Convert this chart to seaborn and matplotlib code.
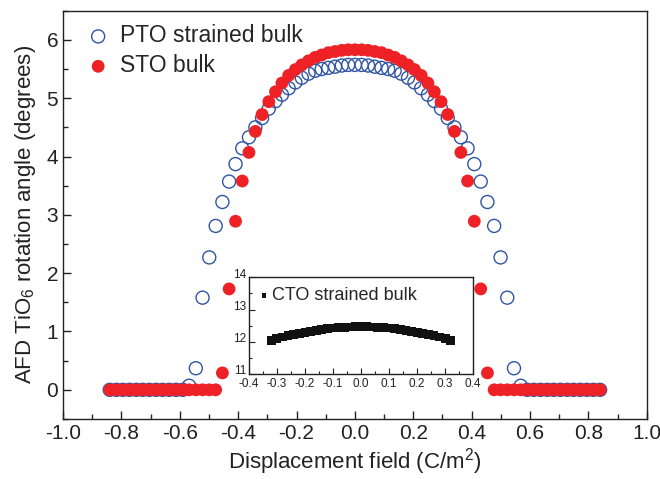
import matplotlib
matplotlib.use("Agg")
import matplotlib.pyplot as plt
import matplotlib.transforms as mtransforms
from matplotlib.ticker import MultipleLocator, FormatStrFormatter
import seaborn as sns

# displacement field grid (C/m^2)
d_field = [-0.840, -0.817, -0.795, -0.772, -0.749, -0.727, -0.704, -0.681, -0.659, -0.636,
           -0.613, -0.590, -0.568, -0.545, -0.522, -0.499, -0.477, -0.454, -0.431, -0.409,
           -0.386, -0.363, -0.341, -0.318, -0.295, -0.272, -0.250, -0.227, -0.204, -0.182,
           -0.159, -0.136, -0.114, -0.091, -0.068, -0.045, -0.023, 0.000, 0.023, 0.045,
           0.068, 0.091, 0.114, 0.136, 0.159, 0.182, 0.204, 0.227, 0.250, 0.272,
           0.295, 0.318, 0.341, 0.363, 0.386, 0.409, 0.431, 0.454, 0.477, 0.499,
           0.522, 0.545, 0.568, 0.590, 0.613, 0.636, 0.659, 0.681, 0.704, 0.727,
           0.749, 0.772, 0.795, 0.817, 0.840]

# AFD rotation angle (degrees)
pto_angle = [0, 0, 0, 0, 0, 0, 0, 0, 0, 0,
             0, 0, 0.07, 0.37, 1.58, 2.27, 2.81, 3.22, 3.57, 3.87,
             4.14, 4.33, 4.50, 4.66, 4.82, 4.95, 5.06, 5.17, 5.27, 5.35,
             5.42, 5.47, 5.50, 5.52, 5.54, 5.56, 5.57, 5.57, 5.57, 5.56,
             5.54, 5.52, 5.50, 5.47, 5.42, 5.35, 5.27, 5.17, 5.06, 4.95,
             4.82, 4.66, 4.50, 4.33, 4.14, 3.87, 3.57, 3.22, 2.81, 2.27,
             1.58, 0.37, 0.07, 0, 0, 0, 0, 0, 0, 0,
             0, 0, 0, 0, 0]

sto_angle = [0, 0, 0, 0, 0, 0, 0, 0, 0, 0,
             0, 0, 0, 0, 0, 0, 0, 0.29, 1.73, 2.89,
             3.58, 4.07, 4.43, 4.72, 4.94, 5.11, 5.26, 5.39, 5.49, 5.57,
             5.64, 5.70, 5.74, 5.78, 5.80, 5.82, 5.83, 5.83, 5.83, 5.82,
             5.80, 5.78, 5.74, 5.70, 5.64, 5.57, 5.49, 5.39, 5.26, 5.11,
             4.94, 4.72, 4.43, 4.07, 3.58, 2.89, 1.73, 0.29, 0, 0,
             0, 0, 0, 0, 0, 0, 0, 0, 0, 0,
             0, 0, 0, 0, 0]

# inset: CTO strained bulk
cto_field = [-0.32, -0.30, -0.28, -0.26, -0.24, -0.22, -0.20, -0.18, -0.16, -0.14, -0.12,
             -0.10, -0.08, -0.06, -0.04, -0.02, 0.00, 0.02, 0.04, 0.06, 0.08, 0.10,
             0.12, 0.14, 0.16, 0.18, 0.20, 0.22, 0.24, 0.26, 0.28, 0.30, 0.32]
cto_angle = [12.05, 12.10, 12.15, 12.19, 12.23, 12.27, 12.30, 12.33, 12.36, 12.39, 12.41,
             12.43, 12.44, 12.45, 12.46, 12.47, 12.47, 12.47, 12.46, 12.45, 12.44, 12.43,
             12.41, 12.39, 12.36, 12.33, 12.30, 12.27, 12.23, 12.19, 12.15, 12.10, 12.05]

sns.set_theme(style="ticks")
plt.rcParams['font.family'] = ['Liberation Sans', 'DejaVu Sans']
plt.rcParams['mathtext.default'] = 'regular'
plt.rcParams['axes.unicode_minus'] = False

blue = "#2f55a4"
red = "#ee2226"

fig = plt.figure(figsize=(6.6, 4.79), dpi=100)
ax = fig.add_axes([0.0955, 0.1253, 0.8845, 0.8524])

sns.scatterplot(x=d_field, y=pto_angle, ax=ax, marker='o', s=88,
                facecolor='none', edgecolor=blue, linewidth=1.0,
                label='PTO strained bulk', zorder=2)
sns.scatterplot(x=d_field, y=sto_angle, ax=ax, marker='o', s=85,
                color=red, edgecolor='none', linewidth=0,
                label='STO bulk', zorder=3)

ax.set_xlim(-1.0, 1.0)
ax.set_ylim(-0.5, 6.5)
ax.xaxis.set_major_locator(MultipleLocator(0.2))
ax.xaxis.set_minor_locator(MultipleLocator(0.1))
ax.xaxis.set_major_formatter(FormatStrFormatter('%.1f'))
ax.yaxis.set_major_locator(MultipleLocator(1))
ax.yaxis.set_minor_locator(MultipleLocator(0.5))
ax.tick_params(which='both', direction='in', colors='#222222', labelsize=15)
ax.tick_params(which='major', length=6, width=1)
ax.tick_params(which='minor', length=3.5, width=1)
for sp in ax.spines.values():
    sp.set_color('#222222')
    sp.set_linewidth(1.0)

ax.set_xlabel('Displacement field (C/m$^2$)', fontsize=16, labelpad=2, color='#222222')
ax.set_ylabel('AFD TiO$_6$ rotation angle (degrees)', fontsize=16, labelpad=6, color='#222222')

ax.legend(loc='upper left', frameon=False, fontsize=16.5, handletextpad=0.45,
          handlelength=1.0, borderaxespad=0.2, labelspacing=0.3,
          bbox_to_anchor=(0.017, 1.0))

# inset
ins = fig.add_axes([0.377, 0.219, 0.340, 0.202])
sns.scatterplot(x=cto_field, y=cto_angle, ax=ins, marker='s', s=40,
                color='#111111', edgecolor='none', linewidth=0,
                label='CTO strained bulk')
ins.set_xlim(-0.4, 0.4)
ins.set_ylim(11, 14)
ins.xaxis.set_major_locator(MultipleLocator(0.1))
ins.xaxis.set_minor_locator(MultipleLocator(0.05))
ins.xaxis.set_major_formatter(FormatStrFormatter('%.1f'))
ins.yaxis.set_major_locator(MultipleLocator(1))
ins.yaxis.set_minor_locator(MultipleLocator(0.5))
ins.tick_params(which='both', direction='in', colors='#222222', labelsize=8.5)
ins.tick_params(axis='x', pad=3)
ins.tick_params(axis='y', pad=2)
ins.tick_params(which='major', length=4, width=0.8)
ins.tick_params(which='minor', length=2, width=0.8)
for sp in ins.spines.values():
    sp.set_color('#222222')
    sp.set_linewidth(1.0)
ins.legend(loc='upper left', frameon=False, fontsize=13, handletextpad=0.15,
           borderaxespad=0.15, markerscale=0.5, handlelength=0.6)

# nudge the inset y labels up a little, like the original
shift = mtransforms.ScaledTranslation(0, 3 / 72, fig.dpi_scale_trans)
for lab in ins.get_yticklabels():
    lab.set_transform(lab.get_transform() + shift)

fig.savefig('out.png', dpi=100)
